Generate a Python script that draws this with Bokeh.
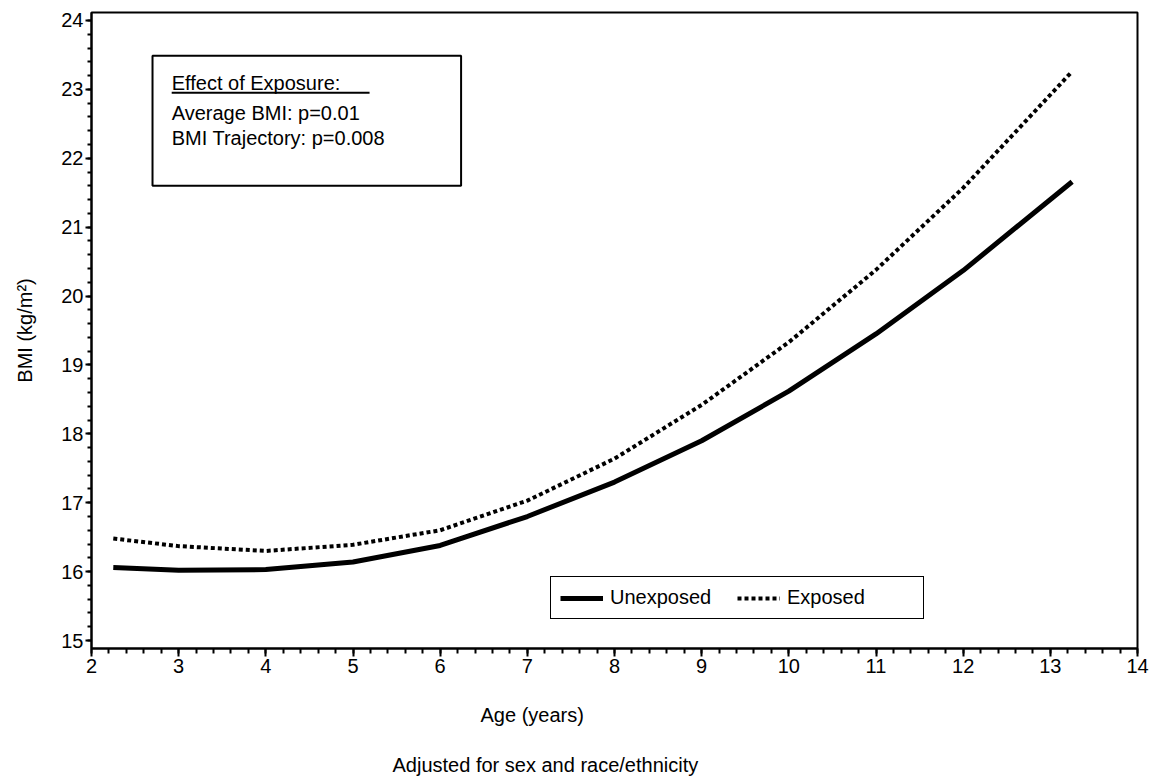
from bokeh.plotting import figure
from bokeh.models import (Range1d, SingleIntervalTicker, Label, BoxAnnotation,
                          Legend, LegendItem, Title)
from bokeh.embed import file_html
from bokeh.resources import INLINE

# ---- data ----
age = [2.25, 3, 4, 5, 6, 7, 8, 9, 10, 11, 12, 13.25]
bmi_unexposed = [16.06, 16.02, 16.03, 16.14, 16.38, 16.80, 17.30, 17.90, 18.62, 19.45, 20.37, 21.66]
bmi_exposed = [16.48, 16.37, 16.30, 16.39, 16.60, 17.03, 17.64, 18.42, 19.33, 20.38, 21.57, 23.26]
series_names = ["Unexposed", "Exposed"]
box_lines = ["Effect of Exposure:", "Average BMI: p=0.01", "BMI Trajectory: p=0.008"]
x_label = "Age (years)"
footnote = "Adjusted for sex and race/ethnicity"

FONT = "Liberation Sans"

p = figure(width=1155, height=778, output_backend="svg", toolbar_location=None,
           x_range=Range1d(2, 14), y_range=Range1d(14.884, 24.116),
           min_border_left=91, min_border_right=18, min_border_top=12,
           min_border_bottom=130)
p.background_fill_color = "white"
p.border_fill_color = "white"
p.outline_line_color = "black"
p.outline_line_width = 2
p.xgrid.visible = False
p.ygrid.visible = False

# axes
p.xaxis.ticker = SingleIntervalTicker(interval=1, num_minor_ticks=5)
p.yaxis.ticker = SingleIntervalTicker(interval=1, num_minor_ticks=5)
for ax in (p.xaxis[0], p.yaxis[0]):
    ax.axis_line_color = "black"
    ax.axis_line_width = 2
    ax.major_tick_line_color = "black"
    ax.major_tick_line_width = 2
    ax.minor_tick_line_color = "black"
    ax.minor_tick_line_width = 2
    ax.major_tick_in = 0
    ax.minor_tick_in = 0
    ax.major_label_text_font = FONT
    ax.major_label_text_font_size = "20px"
    ax.major_label_text_color = "black"
    ax.axis_label_text_font = FONT
    ax.axis_label_text_font_size = "20px"
    ax.axis_label_text_font_style = "normal"
    ax.axis_label_text_color = "black"
p.xaxis.major_tick_out = 8
p.xaxis.minor_tick_out = 5
p.yaxis.major_tick_out = 6
p.yaxis.minor_tick_out = 4
p.xaxis.major_label_standoff = 2
p.yaxis.major_label_standoff = 2
p.yaxis.axis_label = "BMI (kg/m\u00b2)"
p.yaxis.axis_label_standoff = 22

# x axis label and footnote as titles below (offset to match reference placement)
t1 = Title(text=x_label, align="left", offset=389, text_font=FONT,
           text_font_size="20px", text_font_style="normal", text_color="black",
           standoff=52)
t2 = Title(text=footnote, align="left", offset=301, text_font=FONT,
           text_font_size="20px", text_font_style="normal", text_color="black",
           standoff=0)
p.add_layout(t1, "below")
p.add_layout(t2, "below")

# lines
r_un = p.line(age, bmi_unexposed, line_color="black", line_width=5)
r_ex = p.line(age, bmi_exposed, line_color="black", line_width=4,
              line_dash="4 3", line_cap="butt")

# legend
legend = Legend(items=[LegendItem(label=series_names[0], renderers=[r_un]),
                       LegendItem(label=series_names[1], renderers=[r_ex])],
                orientation="horizontal", location=(459, 29),
                label_text_font=FONT, label_text_font_size="20px",
                label_text_color="black", label_width=127,
                glyph_width=43, label_standoff=7, spacing=0, padding=9,
                border_line_color="black", border_line_width=1.5,
                border_line_alpha=1.0, background_fill_alpha=1.0, margin=0)
p.add_layout(legend, "center")

# annotation box
p.add_layout(BoxAnnotation(left=2.70, right=6.24, bottom=21.60, top=23.49,
                           fill_alpha=0, line_color="black", line_alpha=1.0,
                           line_width=2))
for txt, yy in zip(box_lines, [23.096, 22.663, 22.30]):
    p.add_layout(Label(x=2.92, y=yy, text=txt, text_font=FONT,
                       text_font_size="20px", text_baseline="alphabetic",
                       text_color="black"))
p.segment(x0=[2.92], y0=[22.95], x1=[5.19], y1=[22.95], line_color="black", line_width=2)

open("out.html", "w").write(file_html(p, INLINE))
